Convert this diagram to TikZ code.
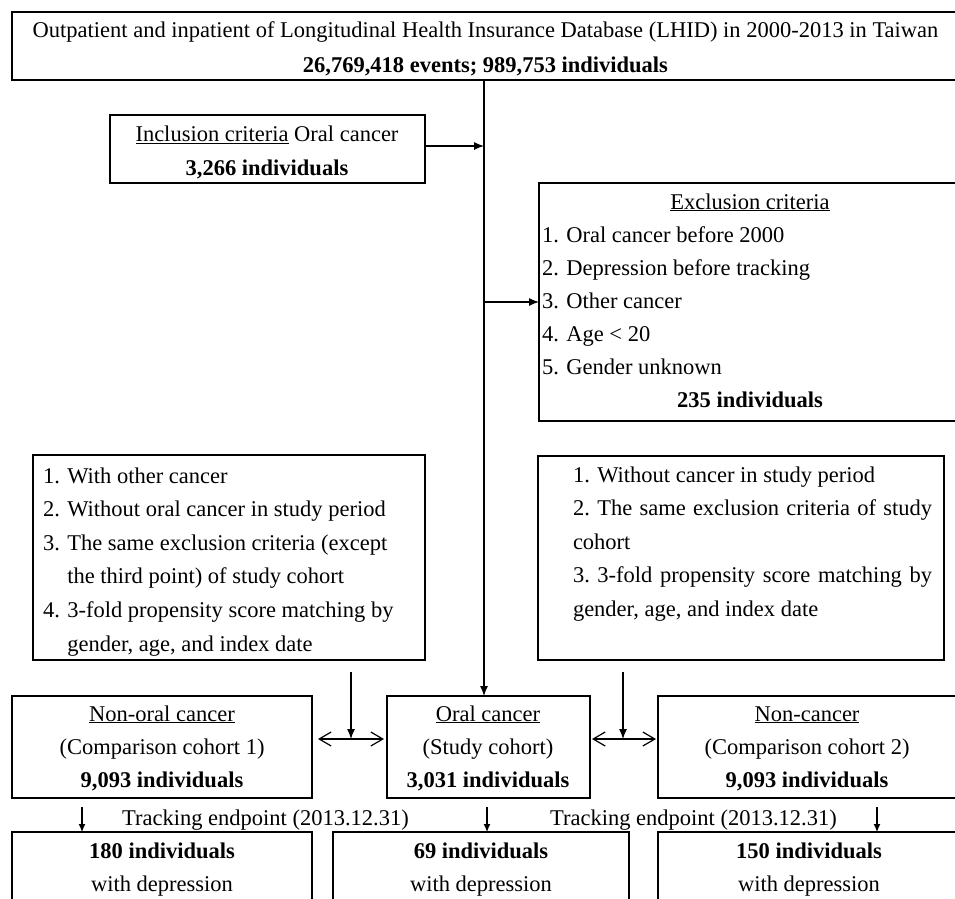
\documentclass[tikz,border=0pt]{standalone}
\usepackage{fontspec}
\setmainfont{Liberation Serif}
\usetikzlibrary{arrows.meta}
\begin{document}
\begin{tikzpicture}[x=1pt,y=-1pt,
  box/.style={draw, line width=1.3pt, inner sep=0pt, outer sep=0pt},
  lbl/.style={inner sep=0pt, outer sep=0pt, font=\fontsize{22.5}{33.4}\selectfont},
  arr/.style={line width=1.2pt, -{Latex[length=10pt,width=8pt]}},
  arrs/.style={line width=1.2pt, -{Latex[length=8pt,width=7pt]}},
  dbl/.style={line width=1.2pt, {Straight Barb[length=12pt,width=14pt]}-{Straight Barb[length=12pt,width=14pt]}}
]
\useasboundingbox (0,0) rectangle (955,898);
\clip (0,0) rectangle (955,898);

% boxes
\node[box, minimum width=953, minimum height=68]  (top)       at (488.5,46) {};
\node[box, minimum width=315, minimum height=68]  (incl)      at (267.5,149) {};
\node[box, minimum width=423, minimum height=238] (excl)      at (750.5,302) {};
\node[box, minimum width=392, minimum height=205] (leftcrit)  at (229,557.5) {};
\node[box, minimum width=406, minimum height=204] (rightcrit) at (741,558) {};
\node[box, minimum width=300, minimum height=102] (nonoral)   at (162,747) {};
\node[box, minimum width=203, minimum height=102] (oral)      at (488.5,747) {};
\node[box, minimum width=304, minimum height=102] (noncancer) at (810,747) {};
\node[box, minimum width=300, minimum height=78]  (bl)        at (162,871) {};
\node[box, minimum width=296, minimum height=78]  (bc)        at (481,871) {};
\node[box, minimum width=304, minimum height=78]  (br)        at (810,871) {};

% texts
\node[lbl, anchor=base, font=\fontsize{22.5}{34.5}\selectfont] (toptxt) at (485.5,37.5)
  {\begin{tabular}[t]{@{}c@{}}Outpatient and inpatient of Longitudinal Health Insurance Database (LHID) in 2000-2013 in Taiwan\\
   \textbf{26,769,418 events; 989,753 individuals}\end{tabular}};
\node[lbl, anchor=base, font=\fontsize{22.5}{33.5}\selectfont] (incltxt) at (267,141.5)
  {\begin{tabular}[t]{@{}c@{}}\underline{Inclusion criteria} Oral cancer\\ \textbf{3,266 individuals}\end{tabular}};
\node[lbl, anchor=base] (exhead) at (750,209) {\underline{Exclusion criteria}};
\node[lbl, anchor=base west, font=\fontsize{22.5}{33.1}\selectfont] (exitems) at (542,242)
  {\begin{tabular}[t]{@{}l@{}}1. Oral cancer before 2000\\ 2. Depression before tracking\\ 3. Other cancer\\ 4. Age < 20\\ 5. Gender unknown\end{tabular}};
\node[lbl, anchor=base] (exnum) at (750,407) {\textbf{235 individuals}};
\node[lbl, anchor=base west, font=\fontsize{22.5}{33.6}\selectfont] (lctxt) at (43,483)
  {\begin{tabular}[t]{@{}l@{}}1. With other cancer\\ 2. Without oral cancer in study period\\ 3. The same exclusion criteria (except\\
   \phantom{3. }the third point) of study cohort\\ 4. 3-fold propensity score matching by\\ \phantom{4. }gender, age, and index date\end{tabular}};
\node[lbl, anchor=base west, font=\fontsize{22.5}{33.6}\selectfont] (rctxt) at (573,482)
  {\begin{tabular}[t]{@{}l@{}}1. Without cancer in study period\\ \makebox[359pt][s]{\hbox{2. The} same exclusion criteria of study}\\ cohort\\
   \makebox[359pt][s]{\hbox{3. 3-fold} propensity score matching by}\\ gender, age, and index date\end{tabular}};
\node[lbl, anchor=base] (nonoraltxt) at (162,721)
  {\begin{tabular}[t]{@{}c@{}}\underline{Non-oral cancer}\\ (Comparison cohort 1)\\ \textbf{9,093 individuals}\end{tabular}};
\node[lbl, anchor=base] (oraltxt) at (488,721)
  {\begin{tabular}[t]{@{}c@{}}\underline{Oral cancer}\\ (Study cohort)\\ \textbf{3,031 individuals}\end{tabular}};
\node[lbl, anchor=base] (noncancertxt) at (807,721)
  {\begin{tabular}[t]{@{}c@{}}\underline{Non-cancer}\\ (Comparison cohort 2)\\ \textbf{9,093 individuals}\end{tabular}};
\node[lbl, anchor=base, font=\fontsize{22.5}{33}\selectfont] (bltxt) at (162,858)
  {\begin{tabular}[t]{@{}c@{}}\textbf{180 individuals}\\ with depression\end{tabular}};
\node[lbl, anchor=base, font=\fontsize{22.5}{33}\selectfont] (bctxt) at (481,858)
  {\begin{tabular}[t]{@{}c@{}}\textbf{69 individuals}\\ with depression\end{tabular}};
\node[lbl, anchor=base, font=\fontsize{22.5}{33}\selectfont] (brtxt) at (809,858)
  {\begin{tabular}[t]{@{}c@{}}\textbf{150 individuals}\\ with depression\end{tabular}};
\node[lbl, anchor=base] (track1) at (265.5,825) {Tracking endpoint (2013.12.31)};
\node[lbl, anchor=base] (track2) at (693.5,825) {Tracking endpoint (2013.12.31)};

% connectors
\coordinate (mx) at (484,0);
\coordinate (ia) at (0,146);
\coordinate (dl) at (351,739);
\coordinate (dr) at (623,739);
\coordinate (b1) at (82,0);
\coordinate (b2) at (487,0);
\coordinate (b3) at (877,0);
\draw[arr] (top.south -| mx) -- (oral.north -| mx);
\draw[arr] (incl.east |- ia) -- (mx |- ia);
\draw[arr] (excl.west -| mx) -- (excl.west);
\draw[arr, shorten <=12pt] (leftcrit.south -| dl) -- (dl);
\draw[arr, shorten <=12pt] (rightcrit.south -| dr) -- (dr);
\draw[dbl, shorten <=6pt, shorten >=3pt] (nonoral.east |- dl) -- (oral.west |- dl);
\draw[dbl, shorten <=2pt, shorten >=2pt] (oral.east |- dr) -- (noncancer.west |- dr);
\draw[arrs, shorten <=9pt] (nonoral.south -| b1) -- (bl.north -| b1);
\draw[arrs, shorten <=9pt] (oral.south -| b2) -- (bc.north -| b2);
\draw[arrs, shorten <=9pt] (noncancer.south -| b3) -- (br.north -| b3);
\end{tikzpicture}
\end{document}
